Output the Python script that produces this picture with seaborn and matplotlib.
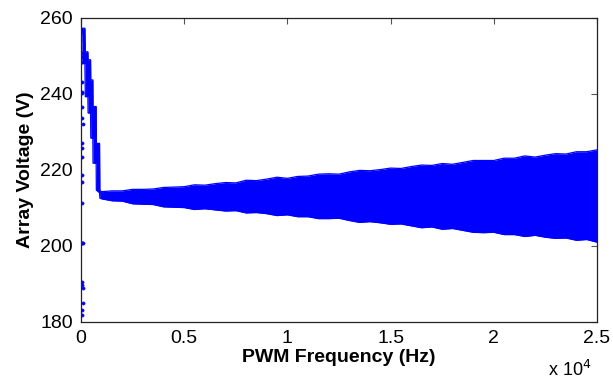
import numpy as np
import pandas as pd
import seaborn as sns
import matplotlib.pyplot as plt

# start-up transient (stepped envelope), Hz / V
start_freq = [40, 80, 190, 210, 335, 345, 465, 475, 575, 585, 735, 745, 900, 915]
start_top = [253.8, 257.3, 257.3, 251.1, 251.1, 249.0, 249.0, 243.7, 243.7, 236.7, 236.7, 227.0, 227.0, 214.6]
start_bot = [248.0, 248.0, 248.0, 239.3, 239.3, 235.0, 235.0, 228.4, 228.4, 221.8, 221.8, 214.7, 214.0, 212.6]

# ripple band envelope, every 500 Hz from 1 kHz to 25 kHz
band_freq = list(range(1000, 25001, 500))
band_top = [214.3, 214.5, 214.5, 214.9, 214.9, 215.0, 215.4, 215.5, 215.6, 216.1,
            216.0, 216.4, 216.7, 216.6, 217.3, 217.2, 217.6, 218.1, 217.8, 218.3,
            218.4, 218.9, 219.0, 218.9, 219.5, 219.9, 219.8, 220.1, 220.5, 220.4,
            220.9, 221.3, 221.2, 221.7, 221.5, 222.0, 222.5, 222.5, 222.5, 223.1,
            223.1, 223.7, 223.4, 223.9, 224.3, 224.2, 224.8, 224.8, 225.3]
band_bot = [212.4, 211.9, 211.8, 211.1, 211.0, 210.9, 210.3, 210.2, 210.1, 209.6,
            209.8, 209.5, 209.2, 209.3, 208.7, 208.8, 208.5, 208.0, 208.2, 207.7,
            207.7, 207.2, 207.2, 207.3, 206.7, 206.2, 206.4, 206.1, 205.7, 205.8,
            205.3, 204.8, 205.0, 204.4, 204.6, 204.1, 203.6, 203.5, 203.6, 203.0,
            203.0, 202.5, 202.8, 202.3, 202.0, 202.1, 201.5, 201.7, 201.0]

# isolated samples near 0 Hz
dot_freq = [60, 48, 55, 70, 48, 60, 70, 48, 75, 60, 48, 60, 70, 48, 60,
            40, 60, 80, 48, 70, 75, 75, 48, 60]
dot_volt = [250.7, 249.8, 248.5, 243.2, 240.6, 240.3, 236.7, 233.6, 232.0, 227.0,
            225.7, 223.5, 218.7, 216.9, 211.2, 200.8, 200.8, 200.8, 190.6, 189.7,
            188.9, 185.0, 183.2, 181.8]

xtick_vals = [0, 5000, 10000, 15000, 20000, 25000]
xtick_labels = ['0', '0.5', '1', '1.5', '2', '2.5']
ytick_vals = [180, 200, 220, 240, 260]

sns.set_style('white')
plt.rcParams['font.family'] = ['Liberation Sans', 'DejaVu Sans']
plt.rcParams['text.color'] = 'black'
plt.rcParams['axes.labelcolor'] = 'black'

env = pd.DataFrame({'freq': start_freq + band_freq,
                    'top': start_top + band_top,
                    'bot': start_bot + band_bot})
dots = pd.DataFrame({'freq': dot_freq, 'volt': dot_volt})

fig = plt.figure(figsize=(6.13, 3.81), dpi=100)
ax = fig.add_axes([0.1321, 0.1549, 0.8418, 0.7979])

blue = '#0000ff'
ax.fill_between(env['freq'], env['bot'], env['top'], color=blue, lw=0)
sns.lineplot(data=env, x='freq', y='top', color=blue, lw=0.9, ax=ax)
sns.lineplot(data=env, x='freq', y='bot', color=blue, lw=0.9, ax=ax)
sns.scatterplot(data=dots, x='freq', y='volt', color=blue, s=6, marker='o',
                edgecolor=blue, ax=ax)

ax.set_xlim(0, 25000)
ax.set_ylim(180, 260)
ax.set_xticks(xtick_vals)
ax.set_xticklabels(xtick_labels)
ax.set_yticks(ytick_vals)
ax.tick_params(direction='in', length=4, width=0.8, color='#555555',
               labelcolor='black', top=True, right=True, labelsize=14, pad=6)
for s in ax.spines.values():
    s.set_color('#222222')
    s.set_linewidth(0.9)

ax.set_xlabel('PWM Frequency (Hz)', fontsize=14, fontweight='bold', labelpad=1)
ax.set_ylabel('Array Voltage (V)', fontsize=14, fontweight='bold', labelpad=4)
fig.text(0.894, 0.014, r'x 10$^{4}$', fontsize=13, ha='left', va='baseline')

fig.savefig('out.png', dpi=100)
